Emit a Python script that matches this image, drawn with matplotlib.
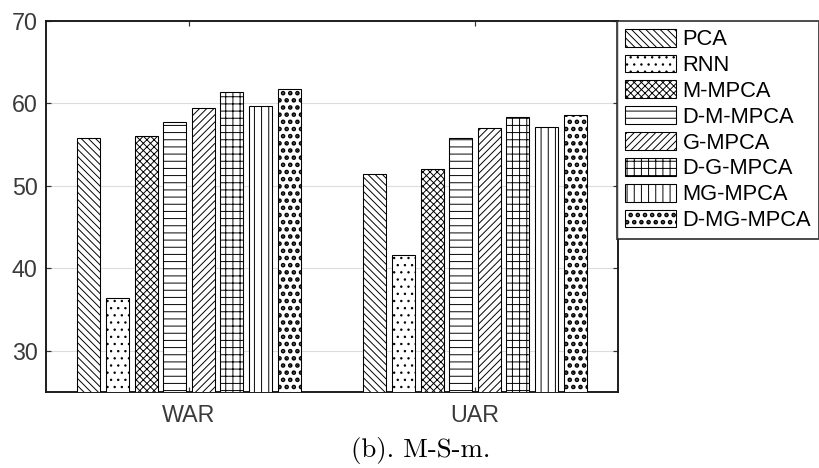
import matplotlib
matplotlib.use("Agg")
import matplotlib.pyplot as plt
import numpy as np

# Data
groups = ["WAR", "UAR"]
methods = ["PCA", "RNN", "M-MPCA", "D-M-MPCA", "G-MPCA", "D-G-MPCA", "MG-MPCA", "D-MG-MPCA"]
war = [55.8, 36.4, 56.0, 57.7, 59.4, 61.4, 59.7, 61.7]
uar = [51.5, 41.6, 52.0, 55.8, 57.0, 58.3, 57.1, 58.6]
hatches = ["\\\\\\\\", "..", "xxxx", "--", "////", "++", "||", ".."]

DPI = 86
plt.rcParams["font.family"] = ["Liberation Sans", "DejaVu Sans"]
plt.rcParams["hatch.linewidth"] = 0.8
plt.rcParams["hatch.color"] = "black"

fig = plt.figure(figsize=(820 / DPI, 468 / DPI), dpi=DPI, facecolor="white")
ax = fig.add_axes([46 / 820, 1 - 392 / 468, (618 - 46) / 820, (392 - 21) / 468])

x = np.arange(1, len(groups) + 1)
width = 0.08
values = np.array([war, uar]).T
handles = []
for i, (name, h) in enumerate(zip(methods, hatches)):
    off = (i - 3.5) * 0.1
    bars = ax.bar(x + off, values[i], width, bottom=0, facecolor="white",
                  edgecolor="black", linewidth=0.9, hatch=h, label=name, zorder=3)
    if name == "D-MG-MPCA":
        for b in bars:
            if hasattr(b, "set_hatch_linewidth"):
                b.set_hatch_linewidth(2.6)
    handles.append(bars)

ax.set_xlim(0.5, 2.5)
ax.set_ylim(25, 70)
ax.set_xticks(x)
ax.set_xticklabels(groups)
ax.set_yticks([30, 40, 50, 60, 70])
ax.yaxis.grid(True, color="#dcdcdc", linewidth=0.9, zorder=0)
ax.set_axisbelow(True)
ax.tick_params(direction="in", length=4, width=1, top=True, right=True,
               labelsize=19.5, labelcolor="#3a3a3a", color="#333333")
ax.tick_params(axis="x", pad=10)
ax.tick_params(axis="y", pad=7)
for s in ax.spines.values():
    s.set_linewidth(1.6)
    s.set_color("#1a1a1a")

leg = fig.legend(handles=handles, labels=methods, loc="upper left",
                 bbox_to_anchor=(617 / 820, 1 - 21 / 468), bbox_transform=fig.transFigure,
                 fontsize=18.3, frameon=True, fancybox=False, edgecolor="#1a1a1a",
                 borderaxespad=0, borderpad=0.35, handlelength=2.35, handleheight=0.88,
                 handletextpad=0.3, labelspacing=0.2)
leg.get_frame().set_linewidth(1.6)
for p in leg.legend_handles[-1:]:
    if hasattr(p, "set_hatch_linewidth"):
        p.set_hatch_linewidth(2.6)

fig.text(421 / 820, 1 - 450 / 468, "(b). M-S-m.", ha="center", va="center",
         fontsize=22.5, family=["cmr10", "DejaVu Serif"])

fig.savefig("out.png", dpi=DPI, facecolor="white")
